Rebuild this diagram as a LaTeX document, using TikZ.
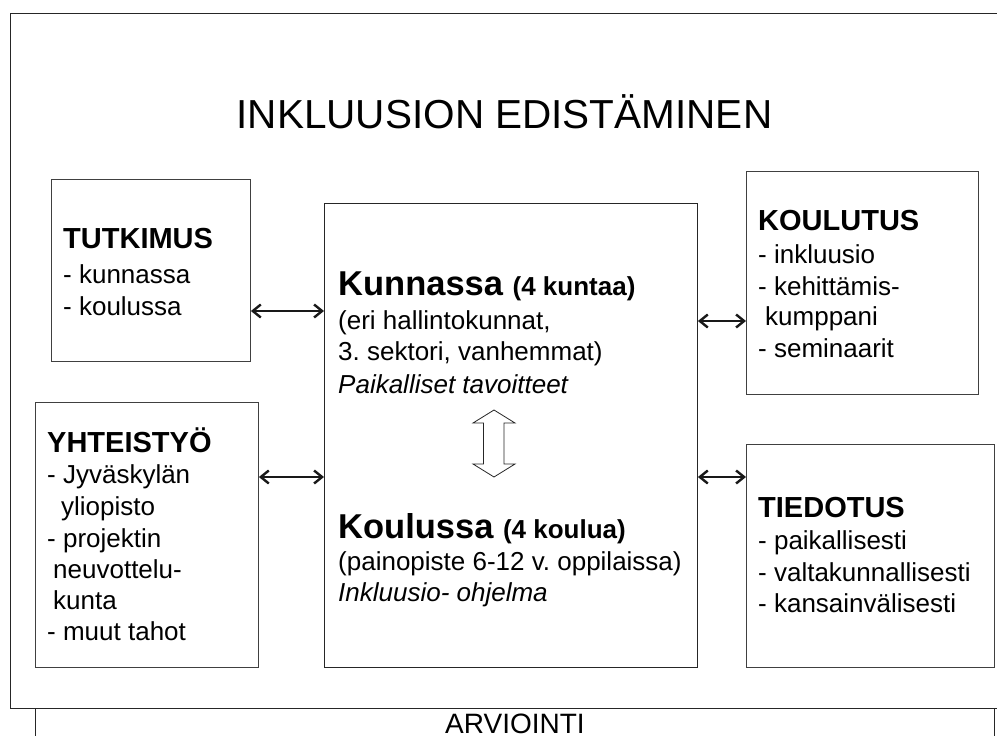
\documentclass[tikz,border=0pt]{standalone}
\usepackage{fontspec}
\setmainfont{Liberation Sans}
\usetikzlibrary{arrows.meta}
\frenchspacing
\begin{document}
\begin{tikzpicture}[x=1pt,y=-1pt,
  box/.style={draw=black!75,line width=0.9pt,inner sep=0pt,anchor=north west},
  frame/.style={draw=black!85,line width=1pt},
  lbl/.style={anchor=base west,inner sep=0pt,text=black},
  body/.style={lbl,font=\fontsize{26}{31.5}\selectfont},
  head/.style={lbl,font=\fontsize{29}{34}\selectfont\bfseries},
  big/.style={lbl,font=\fontsize{34.5}{40}\selectfont\bfseries},
  link/.style={draw=black!90,line width=2.2pt,{Straight Barb[length=8pt,width=13pt,line width=2.4pt]}-{Straight Barb[length=8pt,width=13pt,line width=2.4pt]}}]
\useasboundingbox (0,0) rectangle (997,736);
\clip (0,0) rectangle (997,736);
% outer frame and evaluation frame
\draw[frame] (1005,13) -- (10,13) -- (10,708) -- (1005,708);
\draw[frame] (35,745) -- (35,708) -- (994,708) -- (994,745);
\node[anchor=base,inner sep=0pt,font=\fontsize{28}{32}\selectfont,text=black] (arv) at (515,733.5) {ARVIOINTI};
% title
\node[anchor=base,inner sep=0pt,font=\fontsize{40.5}{46}\selectfont,text=black] (title) at (504.5,128) {INKLUUSION EDISTÄMINEN};
% boxes
\node[box,minimum width=199pt,minimum height=182pt] (tut) at (51,179) {};
\node[box,draw=black!85,minimum width=373pt,minimum height=464pt] (ctr) at (324,203) {};
\node[box,minimum width=232pt,minimum height=223pt] (kout) at (746,171) {};
\node[box,minimum width=223pt,minimum height=265pt] (yht) at (35,402) {};
\node[box,minimum width=248pt,minimum height=223pt] (tie) at (746,444) {};
% TUTKIMUS
\node[head] (tuth) at (63,248) {TUTKIMUS};
\node[body] (tut1) at (63,283) {- kunnassa};
\node[body] (tut2) at (63,315) {- koulussa};
% KOULUTUS
\node[head] (kouh) at (758,230) {KOULUTUS};
\node[body] (kou1) at (758,263) {- inkluusio};
\node[body] (kou2) at (758,295) {- kehittämis-};
\node[body] (kou3) at (765,325) {kumppani};
\node[body] (kou4) at (758,357) {- seminaarit};
% YHTEISTYO
\node[head] (yhth) at (47,452) {YHTEISTYÖ};
\node[body] (yht1) at (47,483) {- Jyväskylän};
\node[body] (yht2) at (61,515) {yliopisto};
\node[body] (yht3) at (47,547) {- projektin};
\node[body] (yht4) at (53,578) {neuvottelu-};
\node[body] (yht5) at (53,609) {kunta};
\node[body] (yht6) at (47,640) {- muut tahot};
% TIEDOTUS
\node[head] (tieh) at (758,517) {TIEDOTUS};
\node[body] (tie1) at (758,549) {- paikallisesti};
\node[body] (tie2) at (758,581) {- valtakunnallisesti};
\node[body] (tie3) at (758,612) {- kansainvälisesti};
% centre
\node[big] (kun) at (338,295) {Kunnassa \fontsize{26}{30}\selectfont(4 kuntaa)};
\node[body] (kun1) at (338,329) {(eri hallintokunnat,};
\node[body] (kun2) at (338,360) {3. sektori, vanhemmat)};
\node[body,font=\fontsize{26}{31.5}\selectfont\itshape] (kun3) at (338,393) {Paikalliset tavoitteet};
\node[big] (kol) at (338,538) {Koulussa \fontsize{26}{30}\selectfont(4 koulua)};
\node[body] (kol1) at (338,570) {(painopiste 6-12 v. oppilaissa)};
\node[body,font=\fontsize{26}{31.5}\selectfont\itshape] (kol2) at (338,601) {Inkluusio- ohjelma};
% hollow double arrow
\draw[draw=black!85,line width=0.8pt,fill=white] (494,410) -- (515,423) -- (504,423) -- (504,464) -- (515,464) -- (494,477) -- (473,464) -- (483.5,464) -- (483.5,423) -- (473,423) -- cycle;
% connectors
\coordinate (ya) at (0,311);
\coordinate (yb) at (0,321);
\coordinate (yc) at (0,477);
\draw[link] (tut.east |- ya) -- (ctr.west |- ya);
\draw[link] (ctr.east |- yb) -- (kout.west |- yb);
\draw[link] (yht.east |- yc) -- (ctr.west |- yc);
\draw[link] (ctr.east |- yc) -- (tie.west |- yc);
\end{tikzpicture}
\end{document}
